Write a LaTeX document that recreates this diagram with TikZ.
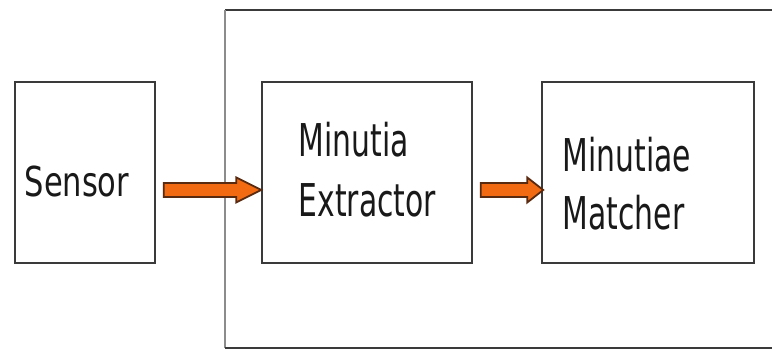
\documentclass[tikz,border=0pt]{standalone}
\usepackage{fontspec}
\usetikzlibrary{positioning, calc}
\definecolor{arroworange}{HTML}{F26A12}
\definecolor{arrowedge}{HTML}{5A2A10}
\definecolor{boxline}{HTML}{3A3A3A}
\newfontfamily\labelfont[FakeStretch=0.66]{DejaVu Sans}
\newfontfamily\sensorfont[FakeStretch=0.74]{DejaVu Sans}
% fat block arrow: start, tip, head length
\newcommand{\fatarrow}[3]{%
  \filldraw[draw=arrowedge, fill=arroworange, line width=0.9pt, line join=miter]
    ($(#1)+(0,3.5pt)$) -- ($(#2)+(-#3,3.5pt)$) -- ($(#2)+(-#3,6.25pt)$) -- (#2)
    -- ($(#2)+(-#3,-6.25pt)$) -- ($(#2)+(-#3,-3.5pt)$) -- ($(#1)+(0,-3.5pt)$) -- cycle;}

\begin{document}
\begin{tikzpicture}
    \tikzstyle{block}=[draw=boxline, line width=0.75pt, minimum height=90.5pt, inner sep=0pt]
    \tikzstyle{blocktext}=[inner sep=0pt, align=left, text=black!90,
      font=\labelfont\fontsize{22.6pt}{30pt}\selectfont]
    \useasboundingbox (0,0) rectangle (386pt,176pt);
    % outer frame, runs off the right edge
    \draw[boxline, line width=0.75pt] (392pt,171pt) -- (112.5pt,171pt);
    \draw[black!45, line width=0.75pt] (112.5pt,171pt) -- (112.5pt,2pt);
    \draw[boxline, line width=0.75pt] (112.5pt,2pt) -- (392pt,2pt);
    % blocks
    \node[block, minimum width=70pt] (sensor) at (42.5pt,89.75pt) {};
    \node[block, minimum width=105pt, right=52.75pt of sensor] (extractor) {};
    \node[block, minimum width=106pt, right=34.25pt of extractor] (matcher) {};
    % texts (base = last line)
    \node[blocktext, font=\sensorfont\fontsize{20.6pt}{28pt}\selectfont, anchor=base west]
      (sensortext) at ($(sensor.west)+(5pt,-12.25pt)$) {Sensor};
    \node[blocktext, anchor=base west] (extractortext)
      at ($(extractor.west)+(18.5pt,-22.25pt)$) {Minutia\\Extractor};
    \node[blocktext, font=\labelfont\fontsize{22.6pt}{29pt}\selectfont, anchor=base west]
      (matchertext) at ($(matcher.west)+(10.5pt,-28.75pt)$) {Minutiae\\Matcher};
    % arrows
    \coordinate (sensorout) at ($(sensor.east)+(4pt,-8.75pt)$);
    \coordinate (extractorin) at ($(extractor.west)+(0,-8.75pt)$);
    \coordinate (extractorout) at ($(extractor.east)+(4pt,-8.75pt)$);
    \coordinate (matcherin) at ($(matcher.west)+(1pt,-8.75pt)$);
    \fatarrow{sensorout}{extractorin}{12.5pt}
    \fatarrow{extractorout}{matcherin}{8pt}
\end{tikzpicture}
\end{document}
